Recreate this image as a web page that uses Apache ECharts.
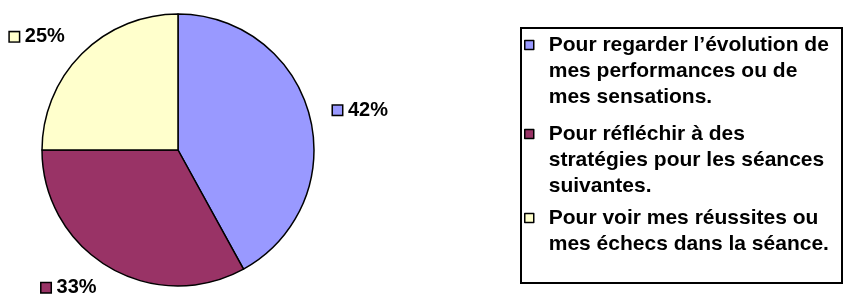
<!DOCTYPE html>
<html>
<head>
<meta charset="utf-8">
<script src="https://cdn.jsdelivr.net/npm/echarts@6/dist/echarts.min.js"></script>
<style>
  html, body { margin: 0; padding: 0; background: #fff; }
  #chart { width: 845px; height: 298px; }
</style>
</head>
<body>
<div id="chart"></div>
<script>
// legend text, already broken into the lines of the original
var legendLines = [
  ['Pour regarder l\u2019évolution de', 'mes performances ou de', 'mes sensations.'],
  ['Pour réfléchir à des', 'stratégies pour les séances', 'suivantes.'],
  ['Pour voir mes réussites ou', 'mes échecs dans la séance.']
];
var categories = legendLines.map(function (l) { return l.join(' '); });
var values = [42, 33, 25];
var colors = ['#9999FF', '#993366', '#FFFFCC'];

var FONT = '"Liberation Sans", Arial, sans-serif';
var LINE = 26;
// centre of the first line of every legend entry
var entryY = [45, 134, 218];

var chart = echarts.init(document.getElementById('chart'));

// one legend per entry; blank lines on top push the first line onto the marker
var legends = categories.map(function (name, i) {
  var n = legendLines[i].length;
  var h = (2 * n - 1) * LINE;
  return {
    data: [name],
    orient: 'vertical',
    left: 524,
    top: entryY[i] - h / 2,
    padding: 0,
    icon: 'rect',
    itemWidth: 9,
    itemHeight: 9,
    itemStyle: { borderColor: '#000', borderWidth: 1.5 },
    selectedMode: false,
    formatter: function () {
      return new Array(n).join('\n') + legendLines[i].join('\n');
    },
    textStyle: {
      fontFamily: FONT,
      fontWeight: 'bold',
      fontSize: 21,
      lineHeight: LINE,
      color: '#000',
      padding: [0, 0, 0, 10]
    }
  };
});

var option = {
  backgroundColor: '#fff',
  animation: false,
  graphic: [{
    type: 'rect',
    z: 0,
    shape: { x: 521, y: 28, width: 321, height: 255 },
    style: { fill: '#fff', stroke: '#000', lineWidth: 2 }
  }],
  legend: legends,
  series: [{
    type: 'pie',
    center: [178, 150],
    radius: 136,
    startAngle: 90,
    clockwise: true,
    avoidLabelOverlap: false,
    itemStyle: { borderColor: '#000', borderWidth: 1.5 },
    labelLine: { show: false, length: 24, length2: 0 },
    emphasis: { disabled: true },
    data: categories.map(function (name, i) {
      return {
        name: name,
        value: values[i],
        itemStyle: { color: colors[i] },
        label: {
          show: true,
          position: 'outside',
          distanceToLabelLine: 0,
          formatter: function (p) { return '{m|}{t|' + p.value + '%}'; },
          rich: {
            m: {
              width: 9,
              height: 9,
              backgroundColor: colors[i],
              borderColor: '#000',
              borderWidth: 1.5
            },
            t: {
              fontFamily: FONT,
              fontWeight: 'bold',
              fontSize: 20,
              color: '#000',
              padding: [0, 0, 0, 6]
            }
          }
        }
      };
    })
  }]
};

chart.setOption(option);
</script>
</body>
</html>
